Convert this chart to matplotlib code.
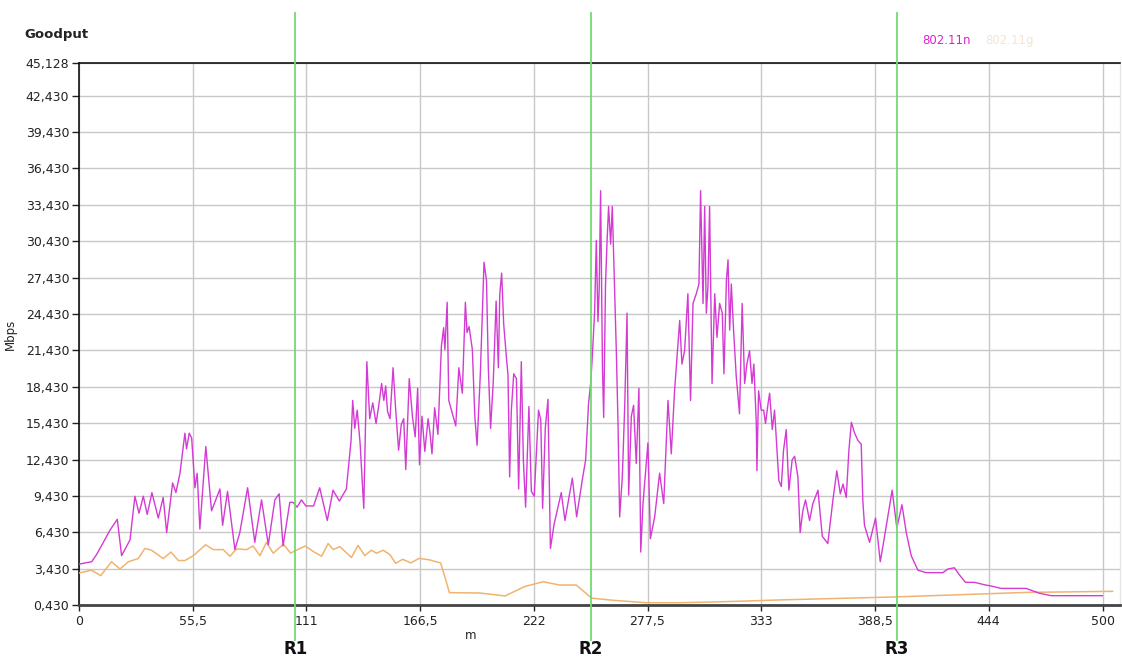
import matplotlib
matplotlib.use("Agg")
import matplotlib.pyplot as plt

# Goodput (Mbps) along the route (m) for the two radio standards
n_dist = [0, 2.9, 6.2, 8.6, 11.9, 15.1, 18.7, 20.8, 24.9, 27.3, 29.3, 31.4, 33.3, 35.6, 38.7,
          41.1, 42.8, 45.7, 47.3, 49.3, 51.7, 52.5, 53.8, 55.0, 56.6, 57.7, 59.0, 61.9, 64.7,
          68.8, 70.1, 72.5, 76.1, 78.5, 82.3, 85.8, 89.1, 92.4, 95.6, 97.7, 99.6, 102.9, 104.5,
          106.4, 108.6, 110.7, 114.5, 117.5, 121.2, 124.0, 127.1, 130.5, 132.8, 133.6, 134.6,
          135.8, 137.2, 139.0, 140.5, 141.9, 143.4, 145.0, 146.5, 147.7, 148.8, 149.7, 150.6,
          151.8, 153.3, 154.6, 156.0, 157.3, 158.5, 159.5, 161.2, 162.8, 164.1, 165.3, 166.2,
          167.4, 168.8, 170.4, 171.4, 172.3, 173.6, 175.2, 176.9, 178.0, 178.6, 179.7, 180.5,
          183.9, 185.4, 187.1, 188.6, 189.4, 190.4, 192.0, 193.2, 194.3, 195.9, 197.7, 198.9,
          199.8, 200.9, 202.2, 203.6, 204.7, 205.4, 206.3, 207.3, 208.6, 209.4, 210.2, 211.0,
          212.2, 213.5, 214.6, 215.9, 216.9, 218.0, 219.6, 220.8, 222.2, 224.3, 225.4, 226.3,
          227.6, 228.9, 230.1, 231.9, 235.4, 237.2, 240.8, 242.9, 245.7, 247.3, 248.7, 249.8,
          250.7, 251.7, 252.5, 253.3, 253.9, 254.6, 255.5, 256.1, 257.0, 257.7, 258.5, 259.5,
          260.3, 261.5, 262.3, 263.1, 263.9, 265.2, 266.4, 267.5, 268.3, 269.6, 270.7, 272.0,
          273.3, 274.2, 275.3, 277.7, 278.9, 281.0, 283.4, 285.4, 287.5, 289.1, 290.7, 293.2,
          294.3, 295.6, 297.2, 298.5, 299.7, 301.3, 302.6, 303.4, 304.6, 305.4, 306.2, 307.0,
          307.8, 309.0, 310.3, 311.4, 312.7, 314.0, 314.8, 316.0, 316.8, 317.6, 318.4, 319.5,
          320.8, 322.4, 323.7, 324.9, 326.0, 327.3, 328.5, 329.4, 330.6, 330.9, 331.7, 333.0,
          334.2, 335.1, 336.3, 337.1, 338.4, 339.5, 340.7, 341.6, 342.8, 343.9, 345.2, 346.5,
          348.1, 349.3, 350.9, 352.0, 353.3, 354.6, 356.6, 358.2, 360.7, 362.8, 365.5, 368.0,
          369.9, 371.6, 372.9, 374.5, 375.8, 377.0, 378.6, 380.2, 381.8, 382.6, 383.4, 385.9,
          388.8, 391.1, 394.0, 396.9, 399.2, 401.7, 403.8, 406.2, 409.5, 413.5, 421.7, 424.1,
          427.3, 429.8, 432.7, 437.1, 442.0, 445.2, 450.1, 462.3, 468.8, 474.5, 499.5]
n_goodput = [3.8, 3.9, 4.0, 4.6, 5.6, 6.6, 7.5, 4.5, 5.8, 9.4, 8.0, 9.4, 7.9, 9.7, 7.6,
             9.3, 6.4, 10.5, 9.7, 11.3, 14.6, 13.3, 14.6, 14.2, 10.1, 11.3, 6.7, 13.5, 8.2,
             10.0, 7.0, 9.8, 5.0, 6.4, 10.1, 5.6, 9.1, 5.4, 9.1, 9.6, 5.3, 8.9, 8.9,
             8.5, 9.1, 8.6, 8.6, 10.1, 7.4, 9.9, 9.0, 10.0, 14.0, 17.3, 15.0,
             16.5, 13.8, 8.4, 20.5, 15.8, 17.1, 15.4, 17.1, 18.7, 17.3, 18.5, 16.4,
             15.8, 20.0, 16.5, 13.2, 15.3, 15.8, 11.6, 19.1, 15.9, 14.3, 18.3, 12.0,
             16.0, 13.1, 15.8, 14.5, 12.9, 16.7, 14.5, 21.8, 23.3, 21.5, 25.4, 17.3,
             15.2, 20.0, 17.9, 25.4, 22.9, 23.4, 21.5, 16.0, 13.6, 19.5, 28.7, 27.2,
             20.0, 15.0, 18.8, 25.5, 20.0, 26.1, 27.8, 23.6, 20.9, 19.4, 11.0, 16.4,
             19.5, 19.1, 10.0, 20.5, 12.4, 8.5, 16.8, 9.8, 9.4, 16.5, 15.7, 8.4,
             15.0, 17.4, 5.1, 7.1, 9.7, 7.4, 10.9, 7.7, 10.8, 12.4, 17.0, 18.8,
             21.4, 24.7, 30.5, 23.8, 26.4, 34.6, 20.1, 15.9, 26.9, 30.2, 33.3, 30.2,
             33.3, 26.1, 21.2, 15.4, 7.7, 11.0, 17.0, 24.5, 9.5, 16.0, 16.9, 12.1,
             18.3, 4.8, 8.8, 13.8, 5.9, 7.7, 11.3, 8.8, 17.3, 12.9, 18.1, 23.9,
             20.3, 21.4, 26.1, 17.3, 25.3, 26.1, 26.9, 34.6, 25.3, 33.3, 24.5, 26.7,
             33.3, 18.7, 26.1, 22.5, 25.3, 24.5, 19.5, 27.2, 28.9, 23.1, 26.9, 23.1,
             19.3, 16.2, 25.3, 18.7, 20.3, 21.4, 18.7, 20.3, 15.4, 11.5, 18.1, 16.5,
             16.5, 15.4, 17.0, 17.9, 14.9, 16.5, 13.2, 10.7, 10.2, 13.2, 14.9, 9.9,
             12.4, 12.7, 11.0, 6.4, 8.2, 9.1, 7.4, 8.8, 9.9, 6.1, 5.5, 9.1,
             11.5, 9.6, 10.4, 9.3, 13.2, 15.5, 14.6, 14.0, 13.7, 9.0, 7.0, 5.6,
             7.6, 4.0, 6.9, 9.9, 6.8, 8.7, 6.4, 4.5, 3.3, 3.1, 3.1, 3.4,
             3.5, 2.9, 2.3, 2.3, 2.1, 2.0, 1.8, 1.8, 1.4, 1.2, 1.2]

g_dist = [0, 6.2, 10.6, 15.9, 20.0, 24.1, 28.9, 32.2, 35.4, 41.1, 44.9, 48.5, 51.7, 55.8,
          61.8, 65.5, 70.4, 73.7, 76.9, 81.8, 85.0, 88.3, 91.5, 94.8, 99.8, 103.3, 105.4,
          110.5, 114.3, 118.4, 121.6, 124.1, 127.3, 133.0, 136.2, 139.5, 142.7, 145.2, 148.4,
          151.7, 154.6, 158.0, 162.0, 166.0, 171.2, 176.5, 178.5, 180.8, 195.6, 208.0, 217.5,
          226.5, 234.6, 242.7, 250.2, 260.6, 276.9, 293.1, 309.4, 325.7, 342.0, 364.7, 397.2,
          429.8, 462.3, 504.5]
g_goodput = [3.07, 3.3, 2.85, 4.0, 3.4, 4.0, 4.26, 5.1, 4.95, 4.26, 4.8, 4.1, 4.1, 4.5,
             5.4, 5.0, 5.0, 4.45, 5.06, 5.0, 5.3, 4.5, 5.6, 4.7, 5.45, 4.7, 4.9,
             5.3, 4.85, 4.45, 5.5, 5.0, 5.25, 4.35, 5.35, 4.5, 4.95, 4.7, 4.95,
             4.6, 3.87, 4.2, 3.9, 4.28, 4.15, 3.9, 2.8, 1.45, 1.42, 1.18, 1.95,
             2.35, 2.08, 2.08, 1.0, 0.82, 0.62, 0.62, 0.68, 0.76, 0.85, 0.95, 1.09,
             1.28, 1.47, 1.56]

series_names = ["802.11n", "802.11g"]

# Region boundaries along the route
region_pos = [105.6, 249.8, 399.2]
region_labels = ["R1", "R2", "R3"]

x_ticks = [0, 55.5, 111, 166.5, 222, 277.5, 333, 388.5, 444, 500]
x_tick_labels = ["0", "55,5", "111", "166,5", "222", "277,5", "333", "388,5", "444", "500"]
y_ticks = [0.430 + 3 * i for i in range(15)] + [45.128]
y_tick_labels = [f"{v:.3f}".replace(".", ",") for v in y_ticks]

col_n = "#d43ad4"
col_g = "#efb470"
col_g_legend = "#f6e3d3"
col_region = "#6fdc6f"

fig = plt.figure(figsize=(11.22, 6.60), dpi=100)
ax = fig.add_axes([0.0704, 0.0833, 0.9276, 0.8212])

ax.plot(g_dist, g_goodput, color=col_g, lw=1.1, zorder=3)
ax.plot(n_dist, n_goodput, color=col_n, lw=1.0, zorder=4)

ax.set_xlim(0, 508)
ax.set_ylim(0.430, 45.128)
ax.set_xticks(x_ticks)
ax.set_xticklabels(x_tick_labels)
ax.set_yticks(y_ticks)
ax.set_yticklabels(y_tick_labels)
ax.grid(True, color="#c8c8c8", lw=1.0, zorder=0)
ax.set_axisbelow(True)

ax.tick_params(axis="both", labelsize=9, colors="#222222", length=5, width=1.0,
               direction="out", pad=2)
ax.tick_params(axis="x", length=4, pad=3)

for side in ("left", "top"):
    ax.spines[side].set_color("#111111")
    ax.spines[side].set_linewidth(1.2)
ax.spines["bottom"].set_color("#444444")
ax.spines["bottom"].set_linewidth(2.0)
ax.spines["right"].set_color("#e6e6e6")
ax.spines["right"].set_linewidth(1.0)

ax.set_ylabel("Mbps", fontsize=8.5, color="#222222", labelpad=6)
ax.set_xlabel("m", fontsize=8.5, color="#222222")
ax.xaxis.set_label_coords(0.376, -0.045)

# Region boundary lines running above and below the plot area
for pos, lab in zip(region_pos, region_labels):
    ax.axvline(pos, ymin=-0.065, ymax=1.092, color=col_region, lw=1.3,
               clip_on=False, zorder=5)
    ax.annotate(lab, xy=(pos, 0), xycoords=("data", "axes fraction"),
                xytext=(0, -31.5), textcoords="offset points", ha="center", va="center",
                fontsize=12, fontweight="bold", color="#111111")

fig.text(0.022, 0.947, "Goodput", fontsize=9.5, fontweight="bold", color="#222222",
         ha="left", va="center")
fig.text(0.822, 0.938, series_names[0], fontsize=8.5, color="#dd22cc", ha="left", va="center")
fig.text(0.878, 0.938, series_names[1], fontsize=8.5, color=col_g_legend, ha="left", va="center")

fig.savefig("out.png", dpi=100)
